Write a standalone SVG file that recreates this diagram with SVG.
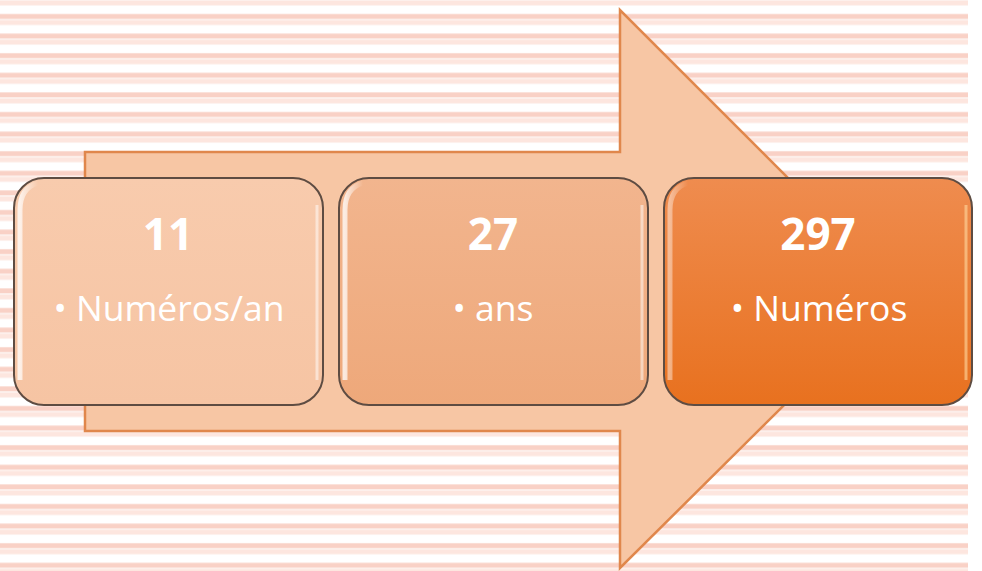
<svg xmlns="http://www.w3.org/2000/svg" width="982" height="571" viewBox="0 0 982 571">
  <defs>
    <pattern id="stripes" x="0" y="0" width="982" height="19.6" patternUnits="userSpaceOnUse">
      <rect x="0" y="0" width="982" height="19.6" fill="#ffffff"/>
      <rect x="0" y="0.4" width="982" height="5" fill="#fde6df"/>
      <rect x="0" y="14" width="982" height="5" fill="#f9d1c6"/>
    </pattern>
    <linearGradient id="g1" x1="0" y1="0" x2="0" y2="1">
      <stop offset="0" stop-color="#f8cbad"/>
      <stop offset="1" stop-color="#f6c4a3"/>
    </linearGradient>
    <linearGradient id="g2" x1="0" y1="0" x2="0" y2="1">
      <stop offset="0" stop-color="#f2b58e"/>
      <stop offset="1" stop-color="#eea87a"/>
    </linearGradient>
    <linearGradient id="g3" x1="0" y1="0" x2="0" y2="1">
      <stop offset="0" stop-color="#ef8c4f"/>
      <stop offset="1" stop-color="#e8711f"/>
    </linearGradient>
    <linearGradient id="hl" x1="0" y1="0" x2="1" y2="0">
      <stop offset="0" stop-color="#ffffff" stop-opacity="0.75"/>
      <stop offset="1" stop-color="#ffffff" stop-opacity="0"/>
    </linearGradient>
    <style>
      .box { stroke: #5e4c42; stroke-width: 2; }
      .num { font-family: "Open Sans", "Liberation Sans", sans-serif; font-weight: bold; font-size: 44px; fill: #ffffff; text-anchor: middle; }
      .lbl { font-family: "Open Sans", "Liberation Sans", sans-serif; font-size: 35.5px; fill: #ffffff; text-anchor: middle; }
      .hl { fill: none; stroke: url(#hl); stroke-width: 5; }
    </style>
  </defs>
  <rect x="0" y="0" width="968" height="571" fill="url(#stripes)"/>
  <rect x="968" y="0" width="14" height="571" fill="#ffffff"/>

  <g id="arrow">
    <polygon points="85,152 620,152 620,10 900,290 620,568 620,431 85,431" fill="#f7c6a4" stroke="#e0874c" stroke-width="2.5" stroke-linejoin="miter"/>
  </g>

  <g id="connectors"></g>

  <g id="node1">
    <rect class="box" x="14" y="178" width="309" height="227" rx="30" ry="30" fill="url(#g1)"/>
    <path class="hl" d="M 20 380 L 20 210 Q 20 188 38 183"/>
    <path d="M 317 205 L 317 380" stroke="#ffffff" stroke-opacity="0.5" stroke-width="3" fill="none"/>
    <text class="num" x="168" y="250">11</text>
    <text class="lbl" x="169" y="321">• Numéros/an</text>
  </g>

  <g id="node2">
    <rect class="box" x="339" y="178" width="309" height="227" rx="30" ry="30" fill="url(#g2)"/>
    <path class="hl" d="M 345 380 L 345 210 Q 345 188 363 183"/>
    <path d="M 642 205 L 642 380" stroke="#ffffff" stroke-opacity="0.5" stroke-width="3" fill="none"/>
    <text class="num" x="493" y="250">27</text>
    <text class="lbl" x="493" y="321">• ans</text>
  </g>

  <g id="node3">
    <rect class="box" x="664" y="178" width="308" height="227" rx="30" ry="30" fill="url(#g3)"/>
    <path class="hl" d="M 670 380 L 670 210 Q 670 188 688 183" stroke-opacity="0.6"/>
    <path d="M 966 205 L 966 380" stroke="#ffd9a0" stroke-opacity="0.6" stroke-width="3" fill="none"/>
    <text class="num" x="818" y="250">297</text>
    <text class="lbl" x="819" y="321">• Numéros</text>
  </g>
</svg>
